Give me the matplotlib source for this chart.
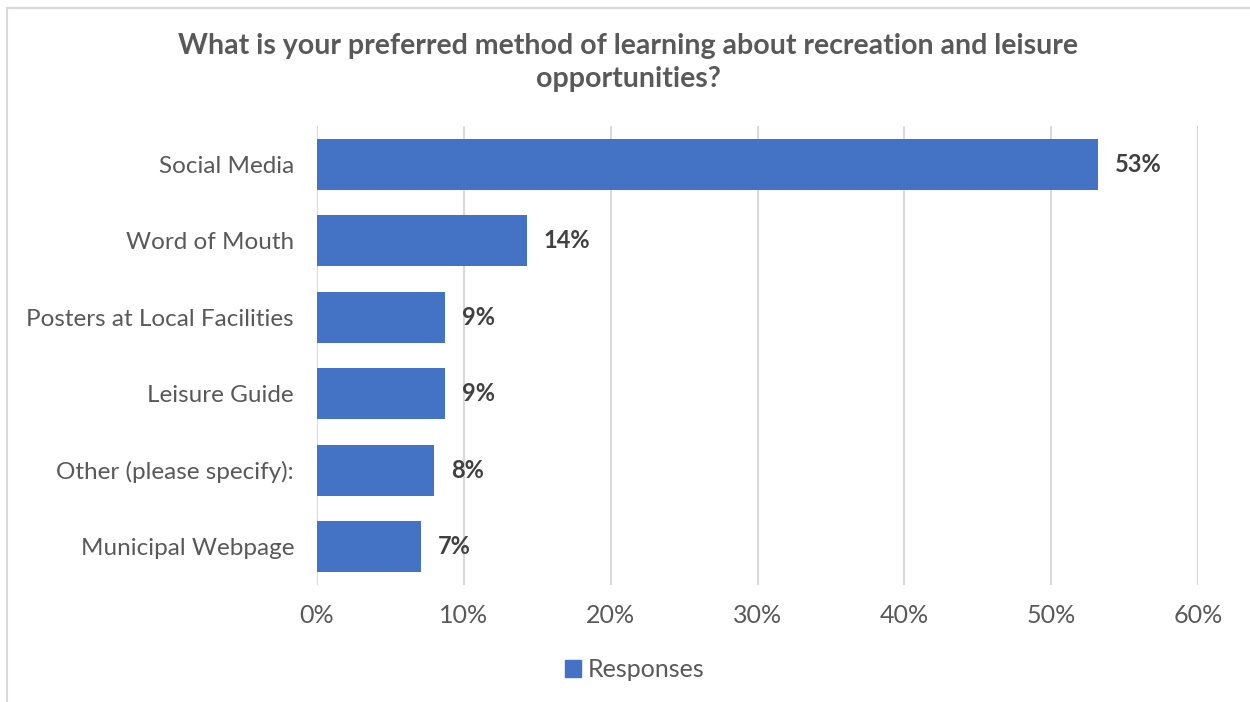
import matplotlib.pyplot as plt
from matplotlib.patches import Rectangle
from matplotlib.lines import Line2D

plt.rcParams['font.family'] = ['Lato', 'DejaVu Sans']

methods = ['Social Media', 'Word of Mouth', 'Posters at Local Facilities',
           'Leisure Guide', 'Other (please specify):', 'Municipal Webpage']
shares = [53.2, 14.3, 8.7, 8.7, 8.0, 7.1]
xticks = [0, 10, 20, 30, 40, 50, 60]

bar_color = '#4472c4'
text_gray = '#595959'

fig = plt.figure(figsize=(12.5, 7.02), dpi=100)
ax = fig.add_axes([0.2536, 0.1667, 0.7048, 0.6538])

ypos = list(range(len(methods)))
ax.barh(ypos, shares, height=0.67, color=bar_color, zorder=3)
for y, v in zip(ypos, shares):
    ax.text(v + 1.15, y, f'{v:.0f}%', va='center', ha='left',
            fontsize=17, fontweight='bold', color='#404040')

ax.set_ylim(len(methods) - 0.5, -0.5)
ax.set_yticks(ypos)
ax.set_yticklabels(methods, fontsize=17.5, color=text_gray)
ax.set_xlim(0, 60)
ax.set_xticks(xticks)
ax.set_xticklabels([f'{t}%' for t in xticks], fontsize=18, color=text_gray)
ax.tick_params(axis='both', length=0)
ax.tick_params(axis='y', pad=16.5)
ax.tick_params(axis='x', pad=14)
ax.grid(axis='x', color='#d9d9d9', linewidth=1.5, zorder=0)
for s in ax.spines.values():
    s.set_visible(False)

fig.text(0.5025, 0.911, 'What is your preferred method of learning about recreation and leisure\nopportunities?',
         ha='center', va='center', fontsize=20.5, fontweight='bold', color=text_gray,
         linespacing=1.3)

# chart frame, only top and left edges fall inside the canvas
fig.add_artist(Line2D([0.0055, 1.0], [0.9885, 0.9885], color='#d9d9d9', linewidth=1.5))
fig.add_artist(Line2D([0.0055, 0.0055], [0.0, 0.9885], color='#d9d9d9', linewidth=1.5))

handle = Rectangle((0, 0), 1, 1, color=bar_color)
fig.legend([handle], ['Responses'], loc='center', bbox_to_anchor=(0.5076, 0.0456),
           frameon=False, fontsize=18, labelcolor=text_gray,
           handlelength=0.65, handleheight=0.65, handletextpad=0.25)

fig.savefig('out.png', dpi=100, facecolor='white')
